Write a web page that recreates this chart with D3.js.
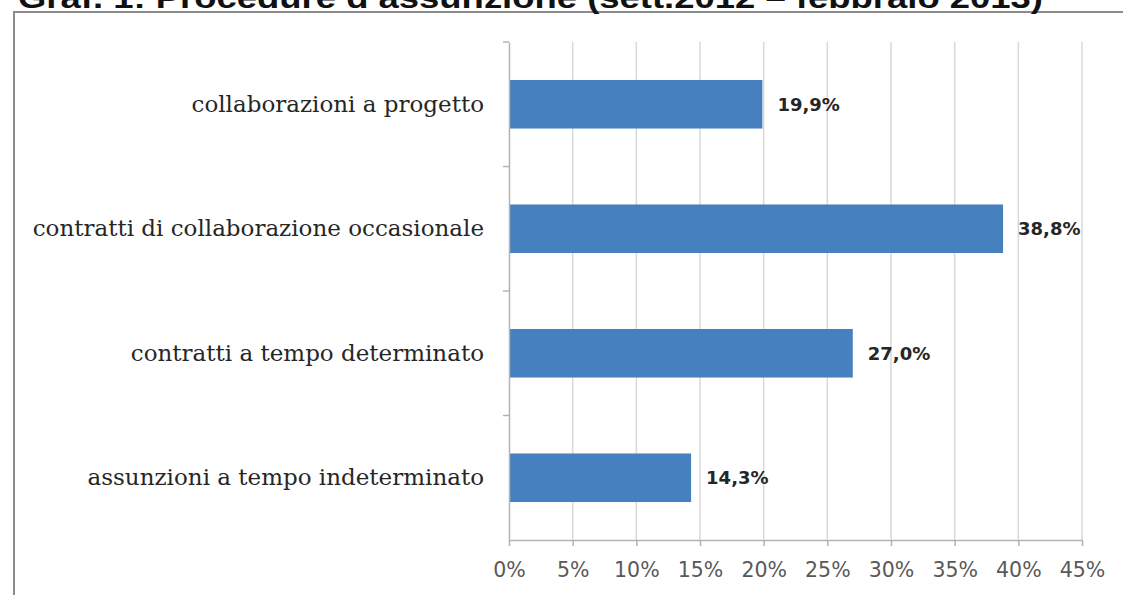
<!DOCTYPE html>
<html>
<head>
<meta charset="utf-8">
<script src="https://cdn.jsdelivr.net/npm/d3@7"></script>
<style>
  html, body { margin: 0; padding: 0; background: #fff; overflow: hidden; }
  svg { display: block; }
</style>
</head>
<body>
<svg id="chart" width="1123" height="595"></svg>
<script>
// values
var titleText = "Graf. 1: Procedure d\u2019assunzione (sett.2012 \u2013 febbraio 2013)";
var categories = [
  "collaborazioni a progetto",
  "contratti di collaborazione occasionale",
  "contratti a tempo determinato",
  "assunzioni a tempo indeterminato"
];
var values = [19.9, 38.8, 27.0, 14.3];
var xTicks = [0, 5, 10, 15, 20, 25, 30, 35, 40, 45];

var data = categories.map(function (c, i) { return { name: c, value: values[i] }; });

var margin = { top: 42, right: 41, bottom: 55, left: 509 };
var width = 1123, height = 595;

var svg = d3.select("#chart");

// frame of the chart area (right and bottom edges run off the picture)
svg.append("rect")
  .attr("x", 14).attr("y", 12)
  .attr("width", 1300).attr("height", 800)
  .attr("fill", "none")
  .attr("stroke", "#8c8c8c")
  .attr("stroke-width", 2);

// title, cut off at the top as in the scan
svg.append("text")
  .attr("x", 18).attr("y", 8)
  .attr("textLength", 1025)
  .attr("lengthAdjust", "spacingAndGlyphs")
  .style("font", "bold 30px 'Liberation Sans', sans-serif")
  .attr("fill", "#111")
  .text(titleText);

var x = d3.scaleLinear()
  .domain([0, 45])
  .range([margin.left, width - margin.right]);

var y = d3.scaleBand()
  .domain(categories)
  .range([margin.top, height - margin.bottom])
  .paddingInner(0.61)
  .paddingOuter(0.305);

var step = y.step();
var y0 = margin.top, y1 = height - margin.bottom;

// vertical gridlines
svg.append("g")
  .attr("stroke", "#d9d9d9")
  .attr("stroke-width", 1.5)
  .selectAll("line")
  .data(xTicks.slice(1))
  .join("line")
  .attr("x1", function (d) { return x(d); })
  .attr("x2", function (d) { return x(d); })
  .attr("y1", y0)
  .attr("y2", y1);

// bars
svg.append("g")
  .attr("fill", "#4680bf")
  .selectAll("rect")
  .data(data)
  .join("rect")
  .attr("x", x(0))
  .attr("y", function (d) { return y(d.name); })
  .attr("width", function (d) { return x(d.value) - x(0); })
  .attr("height", y.bandwidth());

// value labels
svg.append("g")
  .attr("fill", "#262626")
  .style("font", "bold 18px 'DejaVu Sans', sans-serif")
  .selectAll("text")
  .data(data)
  .join("text")
  .attr("x", function (d) { return x(d.value) + 15; })
  .attr("y", function (d) { return y(d.name) + y.bandwidth() / 2; })
  .attr("dy", "0.35em")
  .text(function (d) { return d.value.toFixed(1).replace(".", ",") + "%"; });

// x axis
var xAxis = function (g) { return g
  .attr("transform", "translate(0," + y1 + ")")
  .call(d3.axisBottom(x).tickValues(xTicks).tickSize(6).tickSizeOuter(0).tickPadding(16)
    .tickFormat(function (d) { return d + "%"; }))
  .call(function (g) { g.select(".domain").attr("stroke", "#b3b3b3").attr("stroke-width", 1.5); })
  .call(function (g) { g.selectAll(".tick line").attr("stroke", "#b3b3b3").attr("stroke-width", 1.5); })
  .selectAll("text")
  .attr("fill", "#595959")
  .style("font", "20.5px 'DejaVu Sans', sans-serif"); };

// y axis: labels centred on bands, ticks on band boundaries
var yAxis = function (g) { return g
  .attr("transform", "translate(" + margin.left + ",0)")
  .call(d3.axisLeft(y).tickSize(0).tickPadding(25))
  .call(function (g) { g.select(".domain").attr("stroke", "#b3b3b3").attr("stroke-width", 1.5); })
  .selectAll("text")
  .attr("fill", "#262626")
  .style("font", "23px 'DejaVu Serif', serif"); };

svg.append("g").call(xAxis);
svg.append("g").call(yAxis);

svg.append("g")
  .attr("stroke", "#b3b3b3")
  .attr("stroke-width", 1.5)
  .selectAll("line")
  .data(d3.range(categories.length))
  .join("line")
  .attr("x1", margin.left - 6)
  .attr("x2", margin.left)
  .attr("y1", function (i) { return y0 + i * step; })
  .attr("y2", function (i) { return y0 + i * step; });
</script>
</body>
</html>
